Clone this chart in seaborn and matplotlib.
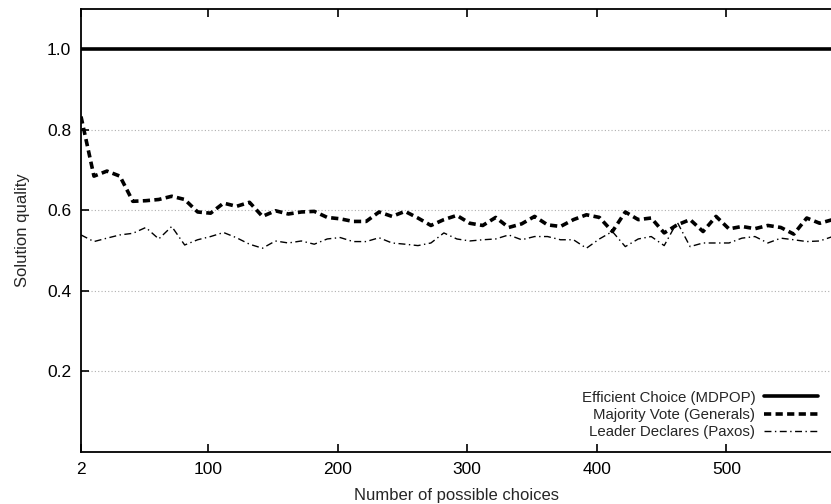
import matplotlib
matplotlib.use("Agg")
import matplotlib.pyplot as plt
import seaborn as sns
import pandas as pd

choices = list(range(2, 583, 10))

efficient = [1.0] * len(choices)

majority = [0.833, 0.685, 0.6975, 0.685, 0.6225, 0.624, 0.627, 0.635, 0.627, 0.596,
            0.593, 0.618, 0.61, 0.62, 0.585, 0.599, 0.591, 0.596, 0.5975, 0.5825,
            0.579, 0.5725, 0.5725, 0.596, 0.585, 0.5975, 0.581, 0.5625, 0.577, 0.5875,
            0.568, 0.5625, 0.5825, 0.5575, 0.5665, 0.585, 0.564, 0.56, 0.577, 0.589,
            0.5825, 0.5475, 0.596, 0.577, 0.581, 0.544, 0.564, 0.577, 0.5475, 0.585,
            0.554, 0.56, 0.5545, 0.5625, 0.5575, 0.541, 0.581, 0.568, 0.577]

leader = [0.539, 0.5225, 0.531, 0.539, 0.543, 0.5575, 0.529, 0.56, 0.514, 0.527,
          0.535, 0.545, 0.532, 0.516, 0.506, 0.524, 0.519, 0.524, 0.516, 0.529,
          0.5325, 0.5225, 0.5225, 0.532, 0.519, 0.516, 0.5125, 0.519, 0.544, 0.529,
          0.524, 0.527, 0.529, 0.539, 0.527, 0.535, 0.535, 0.527, 0.527, 0.506,
          0.529, 0.5475, 0.51, 0.529, 0.535, 0.5125, 0.571, 0.51, 0.519, 0.519,
          0.519, 0.531, 0.535, 0.519, 0.531, 0.527, 0.5225, 0.524, 0.535]

series_names = ["Efficient Choice (MDPOP)", "Majority Vote (Generals)", "Leader Declares (Paxos)"]
x_ticks = [2, 100, 200, 300, 400, 500]
y_ticks = [0.2, 0.4, 0.6, 0.8, 1.0]
y_ticklabels = ["0.2", "0.4", "0.6", "0.8", "1.0"]

sns.set_style("ticks")
plt.rcParams['font.family'] = ['Liberation Sans', 'DejaVu Sans']

fig = plt.figure(figsize=(8.31, 5.04), dpi=100)
ax = fig.add_axes([81 / 831, 52 / 504, 1 - 81 / 831 + 0.002, (452 - 9) / 504])

# grid
for yv in y_ticks[:-1]:
    ax.axhline(yv, color="#b0b0b0", lw=0.8, ls=(0, (1, 2)), zorder=0)

styles = [
    dict(lw=2.6, ls="-"),
    dict(lw=2.6, ls=(0, (2.0, 1.2))),
    dict(lw=1.0, ls=(0, (5, 2.5, 1, 2.5))),
]
for name, vals, st in zip(series_names, [efficient, majority, leader], styles):
    df = pd.DataFrame({"x": choices, "y": vals})
    sns.lineplot(data=df, x="x", y="y", ax=ax, color="black", label=name,
                 linewidth=st["lw"], linestyle=st["ls"])

ax.set_xlim(2, 582)
ax.set_ylim(0, 1.1)
ax.set_xticks(x_ticks)
ax.set_xticklabels([str(t) for t in x_ticks])
ax.set_yticks(y_ticks)
ax.set_yticklabels(y_ticklabels)
ax.tick_params(axis="both", direction="in", length=6, width=1.2, labelsize=12.5,
               top=True, colors="black")
ax.tick_params(axis="x", pad=7)
ax.tick_params(axis="y", pad=7)
ax.spines["right"].set_visible(False)
for s in ["left", "bottom", "top"]:
    ax.spines[s].set_linewidth(1.3)
    ax.spines[s].set_color("black")

ax.set_xlabel("Number of possible choices", fontsize=12, labelpad=8)
ax.set_ylabel("Solution quality", fontsize=12, labelpad=12)

leg = ax.legend(loc="lower right", bbox_to_anchor=(0.995, 0.005), frameon=False,
                markerfirst=False, fontsize=10.8, handlelength=3.6,
                labelspacing=0.22, handletextpad=0.6, borderaxespad=0.3)
for t in leg.get_texts():
    t.set_ha("right")

fig.savefig("out.png", dpi=100)
